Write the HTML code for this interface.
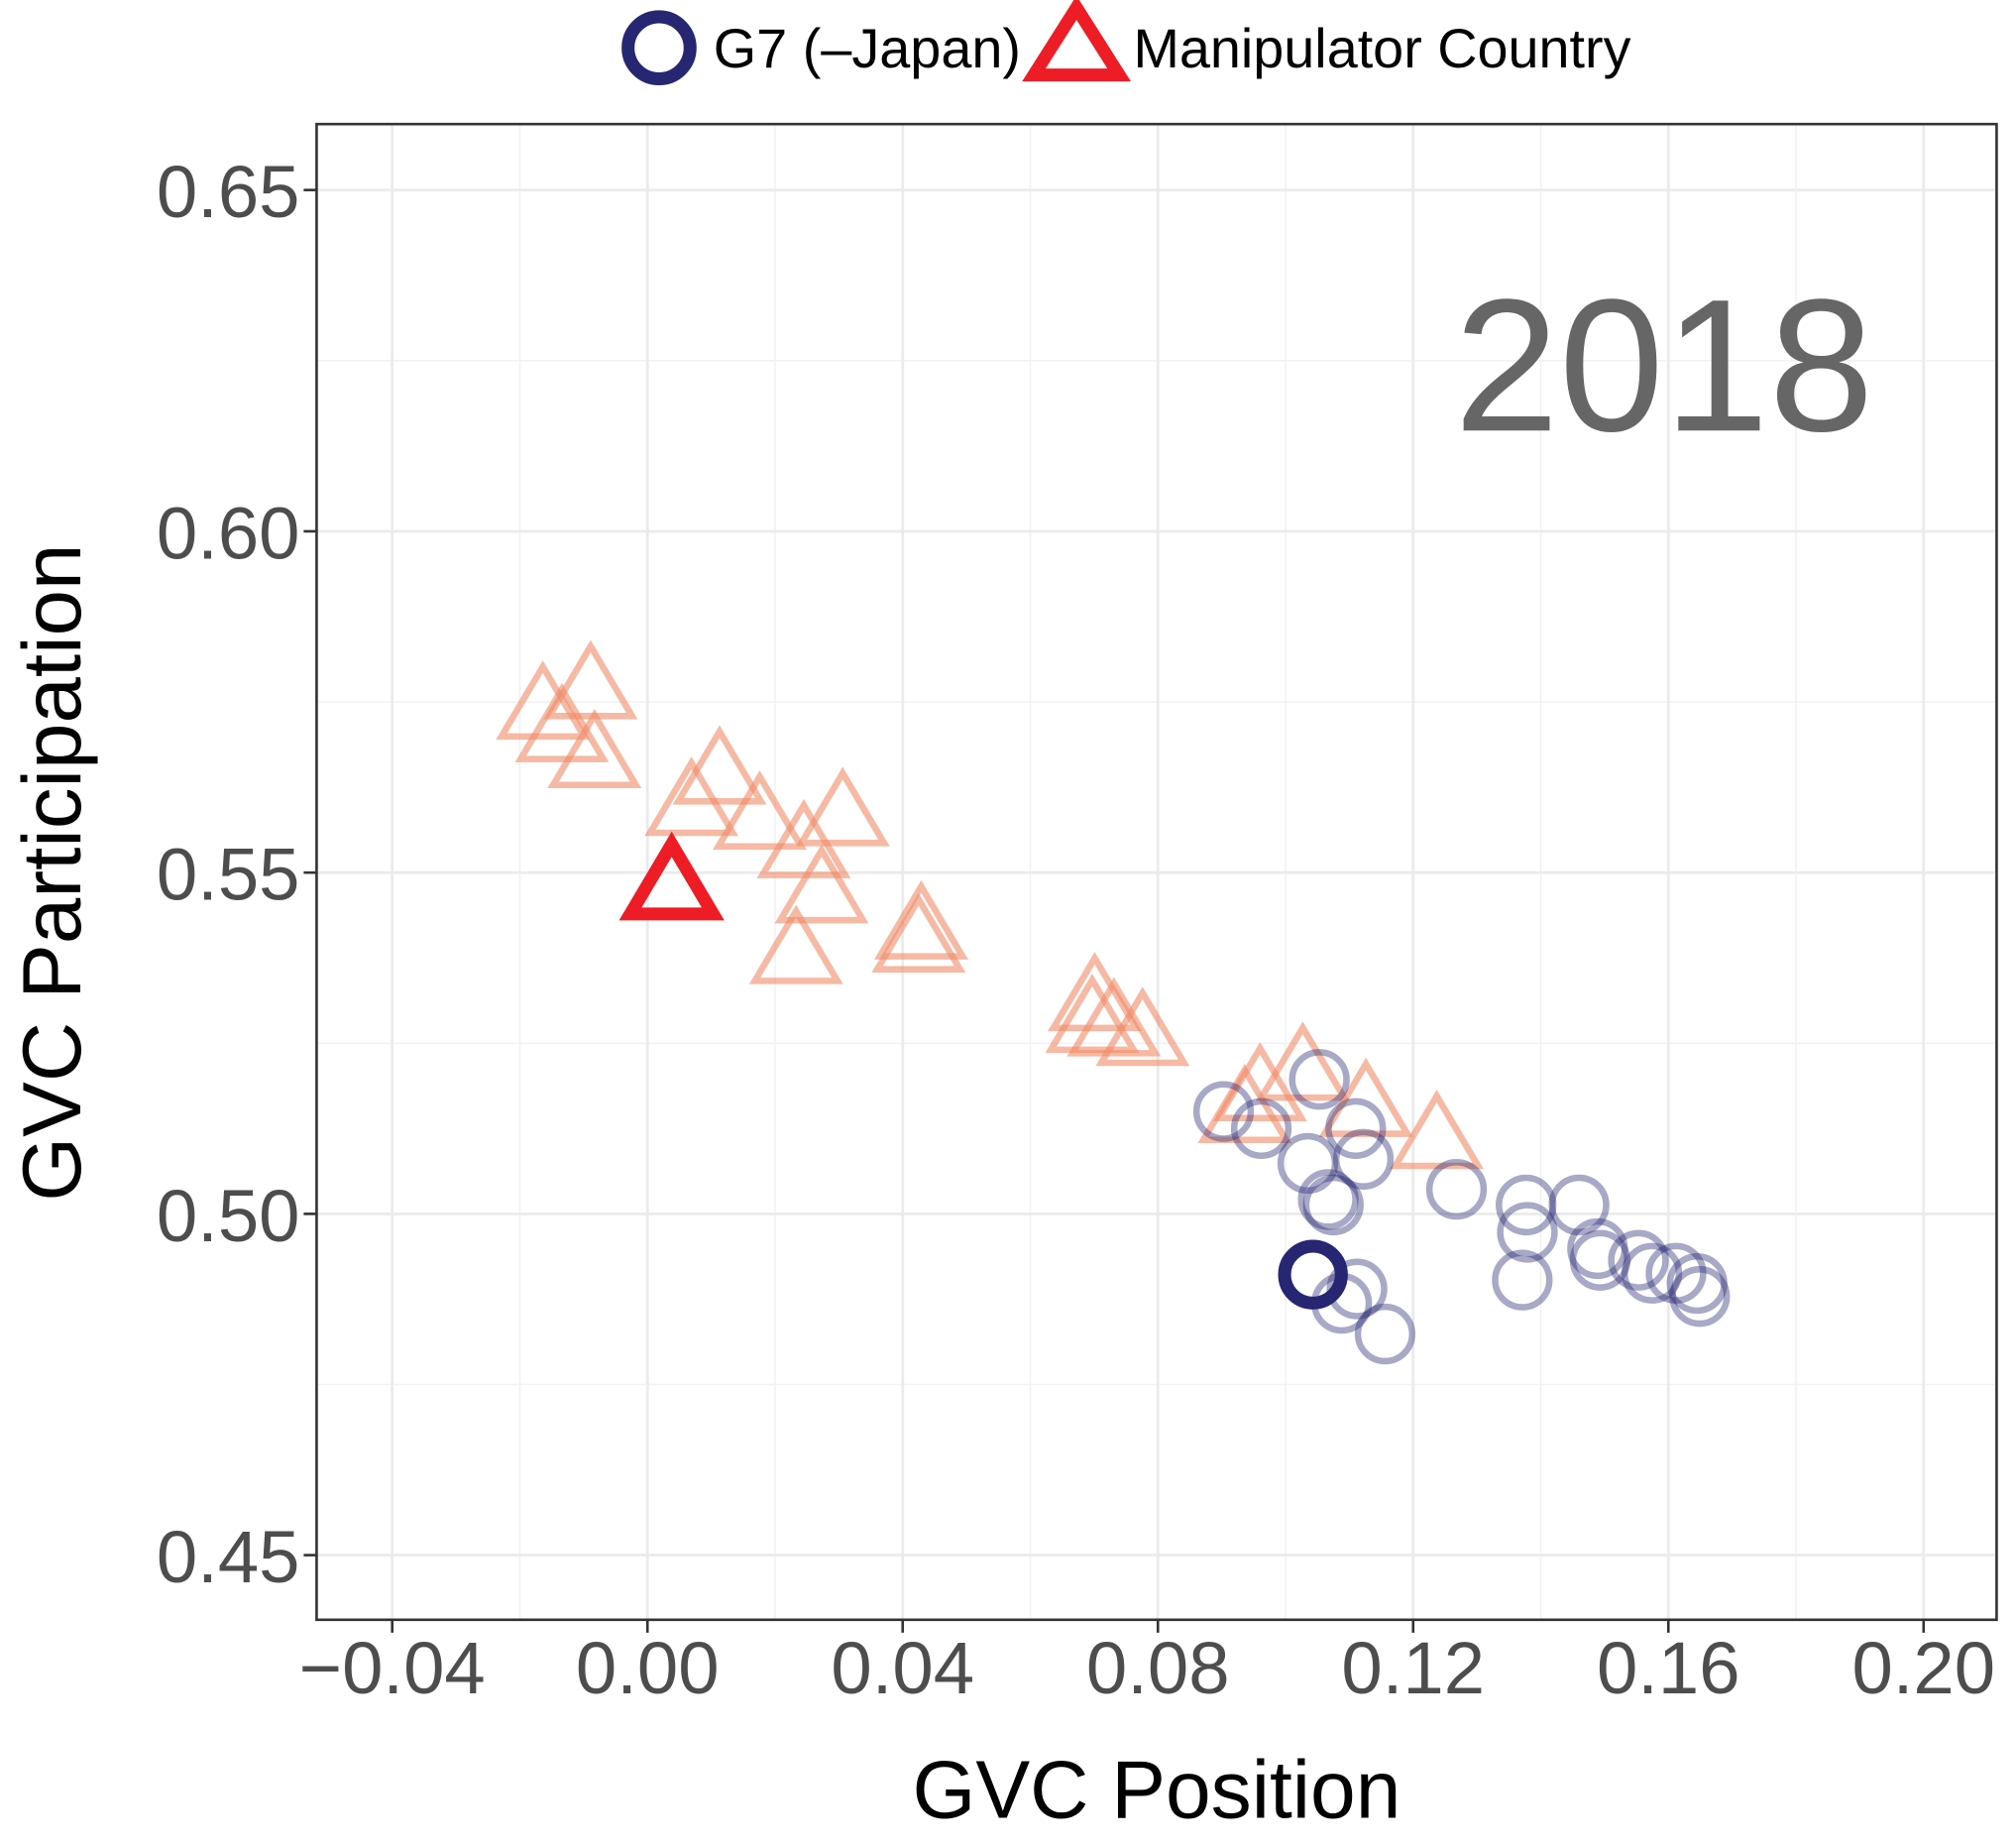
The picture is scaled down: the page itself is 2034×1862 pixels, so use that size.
<!DOCTYPE html>
<html><head><meta charset="utf-8"><style>
html,body{margin:0;padding:0;background:#fff;}
svg{display:block;font-family:"Liberation Sans",Arial,sans-serif;}
</style></head><body>
<svg id="chart" width="2034" height="1862" viewBox="0 0 1560 1428" preserveAspectRatio="none" xmlns="http://www.w3.org/2000/svg">
<g id="legend">
  <g>
    <circle cx="510" cy="37" r="24" fill="none" stroke="#262673" stroke-width="10"/>
    <text x="552" y="52" font-size="43" fill="#000" textLength="238" lengthAdjust="spacingAndGlyphs">G7 (–Japan)</text>
  </g>
  <g>
    <polygon points="833,6 800,58 866,58" fill="none" stroke="#ee1c25" stroke-width="10" stroke-linejoin="miter"/>
    <text x="877" y="52" font-size="43" fill="#000" textLength="385" lengthAdjust="spacingAndGlyphs">Manipulator Country</text>
  </g>
</g>
<g id="grid"></g>
<g id="marks"></g>
<rect x="245" y="96" width="1300" height="1157" fill="none" stroke="#333" stroke-width="2"/>
<g id="axes"></g>
<text x="1450" y="333" font-size="146" fill="#666" text-anchor="end">2018</text>
<text x="895" y="1406" font-size="63" fill="#000" text-anchor="middle">GVC Position</text>
<text transform="translate(62,675) rotate(-90)" font-size="64" fill="#000" text-anchor="middle">GVC Participation</text>
</svg>
<script>
const xTicks = [-0.04, 0.00, 0.04, 0.08, 0.12, 0.16, 0.20];
const xTickLabels = ["\u22120.04","0.00","0.04","0.08","0.12","0.16","0.20"];
const yTicks = [0.45, 0.50, 0.55, 0.60, 0.65];
const yTickLabels = ["0.45","0.50","0.55","0.60","0.65"];
const manipX = [-0.0164,-0.0134,-0.0089,-0.0083,0.0113,0.0069,0.0176,0.0245,0.0306,0.0273,0.0233,0.0429,0.0425,0.0701,0.0697,0.0731,0.0776,0.1027,0.0960,0.0936,0.1126,0.1237];
const manipY = [0.5741,0.5708,0.5771,0.5670,0.5646,0.5600,0.5580,0.5538,0.5585,0.5472,0.5383,0.5419,0.5400,0.5314,0.5282,0.5277,0.5263,0.5212,0.5182,0.5150,0.5159,0.5112];
const g7X = [0.0903,0.0962,0.1053,0.1110,0.1035,0.1122,0.1067,0.1075,0.1268,0.1377,0.1379,0.1460,0.1489,0.1493,0.1553,0.1574,0.1612,0.1645,0.1649,0.1371,0.1112,0.1088,0.1156];
const g7Y = [0.5150,0.5125,0.5197,0.5125,0.5074,0.5080,0.5021,0.5013,0.5036,0.5013,0.4973,0.5013,0.4949,0.4932,0.4932,0.4913,0.4913,0.4898,0.4879,0.4903,0.4890,0.4869,0.4824];
const highlightManip = [0.0038, 0.5481];
const highlightG7 = [0.1043, 0.4911];

const NS = "http://www.w3.org/2000/svg";
const sx = v => 501 + v * 4937.5;
const sy = v => 147 + (0.65 - v) * 5280;
function mk(tag, attrs, parent){
  const e = document.createElementNS(NS, tag);
  for (const k in attrs) e.setAttribute(k, attrs[k]);
  parent.appendChild(e); return e;
}
const grid = document.getElementById('grid');
const marks = document.getElementById('marks');
const axes = document.getElementById('axes');
mk('rect',{x:245,y:96,width:1300,height:1157,fill:'#fff'},grid);
for (let i=0;i<xTicks.length-1;i++){
  const v=(xTicks[i]+xTicks[i+1])/2;
  const l=mk('line',{x1:sx(v),x2:sx(v),y1:96,y2:1253,stroke:'#f2f2f2','stroke-width':1.2},grid);
  
  
}
for (let i=0;i<yTicks.length-1;i++){
  const v=(yTicks[i]+yTicks[i+1])/2;
  const l=mk('line',{x1:245,x2:1545,y1:sy(v),y2:sy(v),stroke:'#f2f2f2','stroke-width':1.2},grid);
  
  
}
xTicks.forEach((v,i)=>{
  const l=mk('line',{x1:sx(v),x2:sx(v),y1:96,y2:1253,stroke:'#ebebeb','stroke-width':2.2},grid);
  
  
  const t=mk('line',{x1:sx(v),x2:sx(v),y1:1253,y2:1263,stroke:'#333','stroke-width':2},axes);
  
  
  const tx=mk('text',{x:sx(v),y:1310,'font-size':57,fill:'#4d4d4d','text-anchor':'middle'},axes);
  tx.textContent=xTickLabels[i];
  
  
});
yTicks.forEach((v,i)=>{
  const l=mk('line',{x1:245,x2:1545,y1:sy(v),y2:sy(v),stroke:'#ebebeb','stroke-width':2.2},grid);
  
  
  const t=mk('line',{x1:235,x2:245,y1:sy(v),y2:sy(v),stroke:'#333','stroke-width':2},axes);
  
  
  const tx=mk('text',{x:232,y:sy(v)+21,'font-size':57,fill:'#4d4d4d','text-anchor':'end'},axes);
  tx.textContent=yTickLabels[i];
  
  
});
function tri(cx,cy){return `${cx},${cy-32} ${cx-32},${cy+22} ${cx+32},${cy+22}`;}
manipX.forEach((v,i)=>{
  const p=mk('polygon',{points:tri(sx(v),sy(manipY[i])),fill:'none',stroke:'#f08a68','stroke-opacity':0.6,'stroke-width':5},marks);
  
  
});
g7X.forEach((v,i)=>{
  const c=mk('circle',{cx:sx(v),cy:sy(g7Y[i]),r:21,fill:'none',stroke:'#262673','stroke-opacity':0.4,'stroke-width':5},marks);
  
  
});
const hm=mk('polygon',{points:tri(sx(highlightManip[0]),sy(highlightManip[1])),fill:'none',stroke:'#ee1c25','stroke-width':10},marks);


const hg=mk('circle',{cx:sx(highlightG7[0]),cy:sy(highlightG7[1]),r:22,fill:'none',stroke:'#262673','stroke-width':10},marks);


</script>
</body></html>
